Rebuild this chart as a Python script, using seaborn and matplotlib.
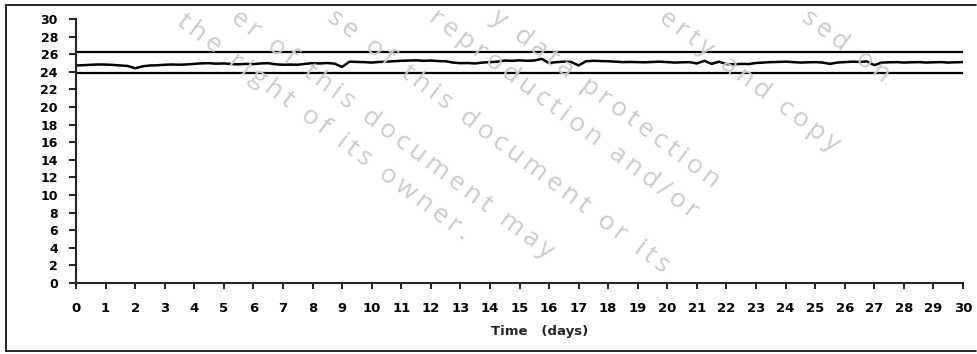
import numpy as np
import matplotlib
matplotlib.use('Agg')
import matplotlib.pyplot as plt
from matplotlib.lines import Line2D
import seaborn as sns

# temperature readings, one every 6 hours over 30 days
temp = [
    24.72, 24.75, 24.80, 24.83,  # day 0
    24.82, 24.78, 24.72, 24.66,
    24.40, 24.62, 24.72, 24.74,
    24.80, 24.83, 24.80, 24.84,
    24.90, 24.96, 24.98, 24.92,
    24.95, 24.88, 24.85, 24.90,  # day 5
    24.87, 24.95, 24.98, 24.85,
    24.80, 24.82, 24.80, 24.90,
    24.98, 24.95, 25.00, 24.92,
    24.55, 25.15, 25.12, 25.10,
    25.05, 25.12, 25.15, 25.20,  # day 10
    25.25, 25.28, 25.30, 25.25,
    25.28, 25.22, 25.20, 25.05,
    24.98, 25.00, 24.95, 25.05,
    25.10, 25.15, 25.28, 25.25,
    25.30, 25.25, 25.28, 25.47,  # day 15
    25.00, 25.10, 25.15, 25.12,
    24.72, 25.20, 25.25, 25.22,
    25.20, 25.15, 25.10, 25.12,
    25.10, 25.08, 25.12, 25.15,
    25.10, 25.05, 25.08, 25.10,  # day 20
    24.95, 25.25, 24.90, 25.15,
    24.88, 24.85, 24.90, 24.88,
    25.00, 25.05, 25.10, 25.12,
    25.15, 25.10, 25.05, 25.08,
    25.10, 25.05, 24.90, 25.05,  # day 25
    25.10, 25.15, 25.12, 25.18,
    24.75, 25.05, 25.08, 25.10,
    25.05, 25.08, 25.10, 25.05,
    25.08, 25.10, 25.05, 25.08,
    25.10,                       # day 30
]
days = np.arange(len(temp)) * 0.25

upper_limit = 26.2
lower_limit = 23.9

x_ticks = list(range(0, 31))
y_ticks = list(range(0, 31, 2))

# watermark fragments and where their first letter sits
watermark = [
    ("the right of its owner.", 176, 24),
    ("er of this document may", 230, 20),
    ("se of this document or its", 326, 20),
    ("reproduction and/or", 428, 20),
    ("y data protection", 490, 20),
    ("erty and copy", 658, 20),
    ("sed on", 800, 20),
]

sns.set_style('ticks')
fig = plt.figure(figsize=(9.77, 3.54), dpi=100)
W, H = 977, 354
ax = fig.add_axes([76 / W, 1 - 283 / H, 887 / W, 264 / H])

sns.lineplot(x=days, y=temp, color='black', linewidth=1.8, ax=ax)
ax.axhline(upper_limit, color='black', linewidth=1.6)
ax.axhline(lower_limit, color='black', linewidth=1.6)

ax.set_xlim(0, 30)
ax.set_ylim(0, 30)
ax.set_xticks(x_ticks)
ax.set_yticks(y_ticks)
ax.set_xticklabels([str(t) for t in x_ticks], fontsize=9.5, fontweight='bold')
ax.set_yticklabels([str(t) for t in y_ticks], fontsize=9, fontweight='bold')
ax.tick_params(axis='y', length=5, width=1.2, pad=8, colors='black')
ax.tick_params(axis='x', length=4, width=1.2, pad=10, colors='black')
sns.despine(ax=ax)
ax.spines['left'].set_linewidth(1.5)
ax.spines['bottom'].set_linewidth(1.5)
ax.set_xlabel('Time   (days)', fontsize=9.5, fontweight='bold')
ax.xaxis.set_label_coords((540 - 76) / 887, -0.16)

# frame round the chart
for x0, y0, x1, y1 in [(6, 5, 976, 5), (6, 5, 6, 351), (6, 351, 976, 351)]:
    fig.add_artist(Line2D([x0 / W, x1 / W], [1 - y0 / H, 1 - y1 / H],
                          color='black', linewidth=1.2))

# watermark, letters spaced out with thin spaces
for txt, px, py in watermark:
    spaced = '\u2009'.join(txt)
    fig.text(px / W, 1 - py / H, spaced, rotation=-37, rotation_mode='anchor',
             ha='left', va='baseline', fontsize=19, color='#cccccc',
             family=['Open Sans', 'DejaVu Sans'], zorder=0)

fig.savefig('out.png', dpi=100)
